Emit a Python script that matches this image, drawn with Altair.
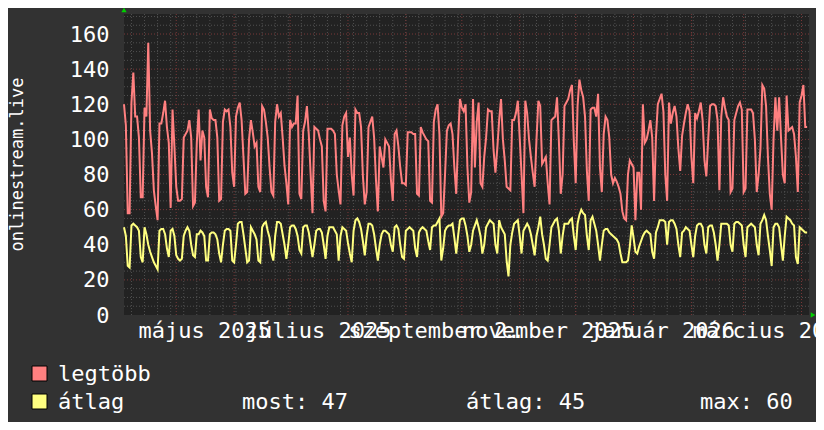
import json
import altair as alt
import pandas as pd

# ---------------- data ----------------
start_date = "2025-04-03"          # first daily sample
end_date = "2026-04-05"            # right edge of the time axis

red_max = [
    120, 108, 58, 58, 121, 138, 113, 113, 101, 67,
    67, 118, 113, 155, 105, 92, 71, 62, 54, 109,
    109, 115, 122, 107, 98, 61, 117, 96, 73, 65,
    65, 66, 101, 103, 105, 111, 101, 62, 64, 98,
    117, 88, 105, 101, 73, 67, 117, 112, 111, 111,
    101, 65, 66, 110, 117, 116, 117, 107, 81, 73,
    113, 118, 121, 111, 90, 69, 70, 100, 111, 104,
    96, 98, 73, 70, 119, 117, 110, 101, 84, 70,
    68, 110, 120, 113, 115, 101, 85, 75, 63, 111,
    107, 109, 109, 125, 69, 66, 105, 110, 119, 103,
    80, 58, 107, 106, 105, 100, 96, 65, 59, 106,
    106, 106, 105, 103, 80, 71, 63, 108, 113, 115,
    90, 101, 80, 68, 117, 115, 115, 107, 79, 63,
    70, 107, 110, 113, 101, 77, 59, 96, 90, 84,
    100, 98, 96, 77, 65, 103, 105, 96, 84, 75,
    75, 74, 104, 104, 104, 103, 103, 69, 68, 107,
    104, 102, 100, 99, 65, 64, 110, 117, 120, 103,
    56, 58, 80, 105, 108, 109, 103, 84, 69, 100,
    123, 118, 116, 120, 84, 64, 70, 123, 84, 110,
    121, 75, 73, 90, 101, 117, 116, 116, 94, 81,
    95, 111, 123, 100, 88, 73, 72, 71, 111, 111,
    115, 122, 101, 80, 58, 122, 115, 100, 90, 81,
    73, 100, 122, 119, 86, 88, 90, 75, 63, 111,
    112, 113, 124, 99, 69, 80, 119, 121, 123, 128,
    131, 99, 75, 119, 134, 128, 124, 113, 82, 65,
    117, 118, 118, 113, 126, 84, 70, 103, 113, 111,
    101, 80, 75, 78, 76, 73, 69, 59, 55, 54,
    80, 88, 86, 84, 54, 81, 81, 60, 120, 98,
    100, 105, 111, 101, 65, 101, 120, 123, 126, 116,
    80, 65, 121, 109, 115, 119, 113, 95, 82, 102,
    109, 115, 120, 116, 90, 75, 115, 112, 116, 121,
    111, 88, 79, 100, 119, 120, 120, 119, 111, 71,
    113, 124, 118, 113, 111, 70, 72, 111, 115, 119,
    121, 117, 70, 72, 117, 117, 117, 115, 100, 70,
    80, 95, 131, 129, 119, 90, 69, 60, 100, 124,
    105, 124, 101, 80, 75, 125, 105, 106, 107, 103,
    90, 70, 121, 125, 131, 107, 107,
]

yellow_avg = [
    50, 45, 28, 27, 51, 52, 51, 50, 48, 33,
    30, 50, 46, 40, 36, 33, 30, 28, 26, 48,
    49, 49, 46, 38, 33, 48, 49, 45, 34, 32,
    31, 32, 45, 48, 50, 48, 40, 34, 33, 46,
    46, 48, 47, 45, 31, 31, 46, 47, 47, 46,
    43, 35, 30, 40, 48, 49, 49, 48, 31, 30,
    40, 52, 53, 53, 46, 38, 30, 31, 50, 48,
    46, 43, 31, 30, 50, 52, 53, 48, 44, 35,
    31, 45, 53, 53, 52, 46, 40, 32, 40, 50,
    51, 51, 49, 45, 37, 35, 50, 51, 51, 47,
    40, 33, 40, 48, 49, 49, 47, 40, 32, 45,
    50, 50, 50, 48, 46, 31, 45, 50, 49, 48,
    41, 35, 30, 48, 54, 55, 53, 49, 42, 34,
    45, 52, 52, 51, 46, 38, 31, 40, 46, 48,
    48, 47, 46, 40, 36, 50, 51, 49, 40, 33,
    32, 48, 49, 50, 49, 48, 38, 33, 47, 49,
    50, 49, 48, 42, 37, 50, 51, 51, 53, 55,
    31, 38, 48, 50, 51, 51, 52, 44, 35, 45,
    54, 55, 55, 51, 45, 36, 40, 48, 51, 54,
    50, 45, 35, 40, 50, 52, 54, 53, 52, 40,
    35, 54, 50, 48, 46, 31, 22, 40, 47, 52,
    53, 54, 45, 35, 48, 50, 52, 50, 46, 40,
    34, 45, 50, 56, 46, 40, 32, 31, 40, 50,
    52, 54, 55, 48, 35, 45, 52, 52, 52, 54,
    55, 45, 37, 52, 57, 60, 58, 57, 45, 37,
    54, 56, 52, 48, 40, 31, 40, 48, 49, 49,
    47, 46, 45, 44, 43, 41, 35, 30, 30, 30,
    31, 39, 51, 44, 36, 35, 39, 42, 45, 47,
    48, 47, 46, 36, 32, 47, 50, 54, 54, 54,
    53, 40, 53, 54, 54, 52, 49, 40, 33, 47,
    48, 50, 49, 48, 40, 33, 45, 51, 52, 52,
    50, 40, 35, 50, 51, 51, 47, 40, 31, 40,
    52, 52, 52, 52, 51, 40, 36, 52, 53, 53,
    52, 51, 40, 33, 50, 51, 52, 51, 50, 40,
    34, 52, 54, 57, 54, 45, 37, 28, 50, 52,
    52, 50, 40, 31, 45, 56, 55, 54, 52, 51,
    33, 29, 50, 49, 48, 47, 47,
]

series_names = ["legtöbb", "átlag"]
series_colors = ["#ff8080", "#ffff80"]

y_ticks = [0, 20, 40, 60, 80, 100, 120, 140, 160]
y_max = 171.4
y_title = "onlinestream.live"

month_names = ["január", "február", "március", "április", "május", "június",
               "július", "augusztus", "szeptember", "október", "november", "december"]
# x labels: every second month, centred mid-month (rrdtool style)
label_months = [(2025, 5), (2025, 7), (2025, 9), (2025, 11), (2026, 1), (2026, 3)]

stat_names = ["most", "átlag", "max"]
stat_values = [47, 45, 60]

# ---------------- styling ----------------
FONT = "DejaVu Sans Mono"
W, H = 685, 301
BG = "#323232"
CANVAS = "#222222"
MINOR = "#505050"
MAJOR = "#7a3838"
GREEN = "#00d000"
DASH = [1, 2]


def iso(ts):
    return ts.strftime("%Y-%m-%dT%H:%M:%SZ")


def dt(s):
    t = pd.Timestamp(s)
    return alt.DateTime(year=t.year, month=t.month, date=t.day, utc=True)


dates = pd.date_range(start_date, periods=len(red_max), freq="D")
dates_y = pd.date_range(start_date, periods=len(yellow_avg), freq="D")
df = pd.concat([
    pd.DataFrame({"date": [iso(d) for d in dates], "value": red_max, "series": series_names[0]}),
    pd.DataFrame({"date": [iso(d) for d in dates_y], "value": yellow_avg, "series": series_names[1]}),
])

xscale = alt.Scale(type="utc", domain=[dt(start_date), dt(end_date)])
yscale = alt.Scale(domain=[0, y_max], nice=False, zero=True)

label_values = [alt.DateTime(year=y, month=m, date=16, utc=True) for y, m in label_months]
label_expr = json.dumps(month_names, ensure_ascii=False) + "[utcmonth(datum.value)] + ' ' + utcyear(datum.value)"

x_axis = alt.Axis(values=label_values, labelExpr=label_expr, labelOverlap=False,
                  labelFont=FONT, labelFontSize=22, labelColor="#ffffff", labelPadding=5,
                  labelBound=False, labelFlush=False, ticks=False, domain=False, grid=False, title=None)
y_axis = alt.Axis(values=y_ticks, labelFont=FONT, labelFontSize=22, labelColor="#ffffff",
                  labelPadding=15, ticks=False, domain=False, grid=False,
                  title=y_title, titleFont=FONT, titleFontSize=17, titleFontWeight="normal",
                  titleColor="#ffffff", titleAngle=270, titleX=-102, titleY=150,
                  titleAlign="center", titleBaseline="alphabetic")

X = lambda f: alt.X(f, scale=xscale, axis=x_axis)
Y = lambda f: alt.Y(f, scale=yscale, axis=y_axis)

# grid structure (weekly Mondays, month starts, 5 / 20 unit steps)
weeks = pd.date_range("2025-04-07", end_date, freq="7D")
months = pd.date_range("2025-05-01", end_date, freq="MS")
week_df = pd.DataFrame({"date": [iso(d) for d in weeks]})
month_df = pd.DataFrame({"date": [iso(d) for d in months]})
minor_y = pd.DataFrame({"v": [v for v in range(5, 175, 5) if v % 20 != 0]})
major_y = pd.DataFrame({"v": [v for v in range(20, 171, 20)]})

vgrid_minor = alt.Chart(week_df).mark_rule(color=MINOR, strokeDash=DASH, strokeWidth=1).encode(x=X("date:T"))
vgrid_major = alt.Chart(month_df).mark_rule(color=MAJOR, strokeDash=DASH, strokeWidth=1).encode(x=X("date:T"))
hgrid_minor = alt.Chart(minor_y).mark_rule(color=MINOR, strokeDash=DASH, strokeWidth=1).encode(y=Y("v:Q"))
hgrid_major = alt.Chart(major_y).mark_rule(color=MAJOR, strokeDash=DASH, strokeWidth=1).encode(y=Y("v:Q"))

lines = alt.Chart(df).mark_line(strokeWidth=2, interpolate="linear").encode(
    x=X("date:T"),
    y=Y("value:Q"),
    color=alt.Color("series:N", scale=alt.Scale(domain=series_names, range=series_colors), legend=None),
    detail="series:N",
)

arrow_up = alt.Chart(pd.DataFrame({"date": [iso(pd.Timestamp(start_date))], "v": [y_max]})).mark_point(
    shape="triangle-up", filled=True, color=GREEN, size=28, opacity=1, yOffset=-4).encode(
    x=X("date:T"), y=Y("v:Q"))
arrow_right = alt.Chart(pd.DataFrame({"date": [iso(pd.Timestamp(end_date))], "v": [0]})).mark_point(
    shape="triangle-right", filled=True, color=GREEN, size=28, opacity=1, xOffset=4).encode(
    x=X("date:T"), y=Y("v:Q"))

# legend (drawn in the bottom padding)
legend_layers = []
for i, (name, col) in enumerate(zip(series_names, series_colors)):
    top = 352 + 28 * i
    legend_layers.append(alt.Chart().mark_rect(fill=col, stroke="#000000", strokeWidth=1).encode(
        x=alt.value(-92), x2=alt.value(-77), y=alt.value(top), y2=alt.value(top + 15)))
    legend_layers.append(alt.Chart().mark_text(font=FONT, fontSize=22, color="#ffffff",
                                                align="left", baseline="middle").encode(
        x=alt.value(-66), y=alt.value(top + 8), text=alt.value(name)))

stat_x = [118, 342, 576]
for sx, n, v in zip(stat_x, stat_names, stat_values):
    legend_layers.append(alt.Chart().mark_text(font=FONT, fontSize=22, color="#ffffff",
                                                align="left", baseline="middle").encode(
        x=alt.value(sx), y=alt.value(388), text=alt.value(f"{n}: {v}")))

# page has an 8px margin: the whole canvas is 808 x 414, placed so the plot sits at the
# same page position as in the reference
chart = alt.layer(
    vgrid_minor, hgrid_minor, vgrid_major, hgrid_major, lines, arrow_up, arrow_right, *legend_layers
).properties(
    width=W, height=H,
    autosize=alt.AutoSizeParams(type="none"),
    padding={"left": 116, "top": 6, "right": 7, "bottom": 107},
).configure(background=BG).configure_view(fill=CANVAS, stroke=None)

chart.save("out.html", embed_options={"renderer": "svg", "actions": False})
